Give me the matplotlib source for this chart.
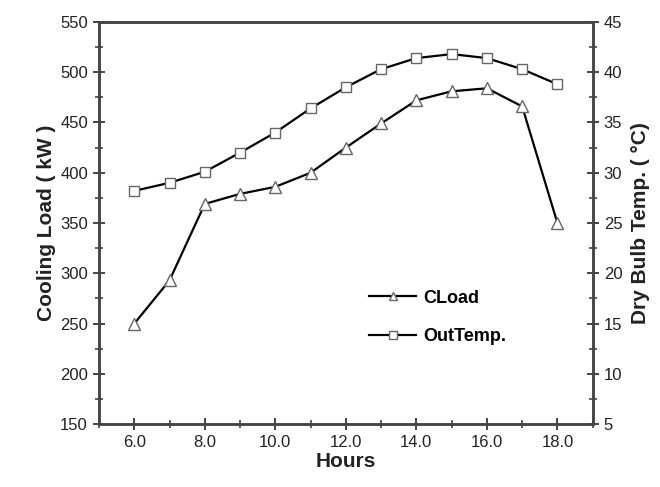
import matplotlib
matplotlib.use("Agg")
import matplotlib.pyplot as plt
from matplotlib.ticker import MultipleLocator, FormatStrFormatter

plt.rcParams['font.family'] = ['Liberation Sans', 'DejaVu Sans']

hours = [6, 7, 8, 9, 10, 11, 12, 13, 14, 15, 16, 17, 18]
cload = [250, 293, 369, 379, 386, 400, 425, 449, 472, 481, 484, 466, 350]
out_temp = [28.2, 29.0, 30.1, 32.0, 34.0, 36.4, 38.5, 40.3, 41.4, 41.8, 41.4, 40.3, 38.8]

fig = plt.figure(figsize=(6.6, 4.87), dpi=100)
ax = fig.add_axes([0.15, 0.129, 0.748, 0.826])
ax1 = ax.twinx()

l1, = ax.plot(hours, cload, color="black", lw=1.6, marker="^", ms=8,
              mfc="white", mec="#666666", mew=1.0, label="CLoad")
l2, = ax1.plot(hours, out_temp, color="black", lw=1.6, marker="s", ms=7,
               mfc="white", mec="#666666", mew=1.0, label="OutTemp.")

ax.set_xlim(5, 19)
ax.set_ylim(150, 550)
ax1.set_ylim(5, 45)

ax.xaxis.set_major_formatter(FormatStrFormatter("%.1f"))
ax.set_xticks([6, 8, 10, 12, 14, 16, 18])
ax.xaxis.set_minor_locator(MultipleLocator(1))
ax.yaxis.set_major_locator(MultipleLocator(50))
ax.yaxis.set_minor_locator(MultipleLocator(25))
ax1.yaxis.set_major_locator(MultipleLocator(5))
ax1.yaxis.set_minor_locator(MultipleLocator(2.5))

for a in (ax, ax1):
    for s in a.spines.values():
        s.set_color("#444444")
        s.set_linewidth(1.8)
    a.tick_params(which="major", direction="inout", length=9, width=1.4,
                  color="#444444", labelsize=12, labelcolor="#222222")
    a.tick_params(which="minor", direction="inout", length=6, width=1.2,
                  color="#444444")
ax.tick_params(axis="x", which="both", top=False)
ax1.tick_params(axis="x", which="both", top=False, bottom=False)

ax.set_xlabel("Hours", fontsize=15, fontweight="bold", color="#222222", labelpad=1)
ax.set_ylabel("Cooling Load ( kW )", fontsize=15, fontweight="bold", color="#222222", labelpad=3)
ax1.set_ylabel("Dry Bulb Temp. ( \u00b0C)", fontsize=15, fontweight="bold", color="#222222", labelpad=6)

leg = ax.legend([l1, l2], ["CLoad", "OutTemp."], loc="upper left",
                bbox_to_anchor=(0.515, 0.375), frameon=False, handlelength=2.6,
                handletextpad=0.4, labelspacing=1.2, markerscale=0.75,
                prop={"weight": "bold", "size": 13})

fig.savefig("out.png", dpi=100)
